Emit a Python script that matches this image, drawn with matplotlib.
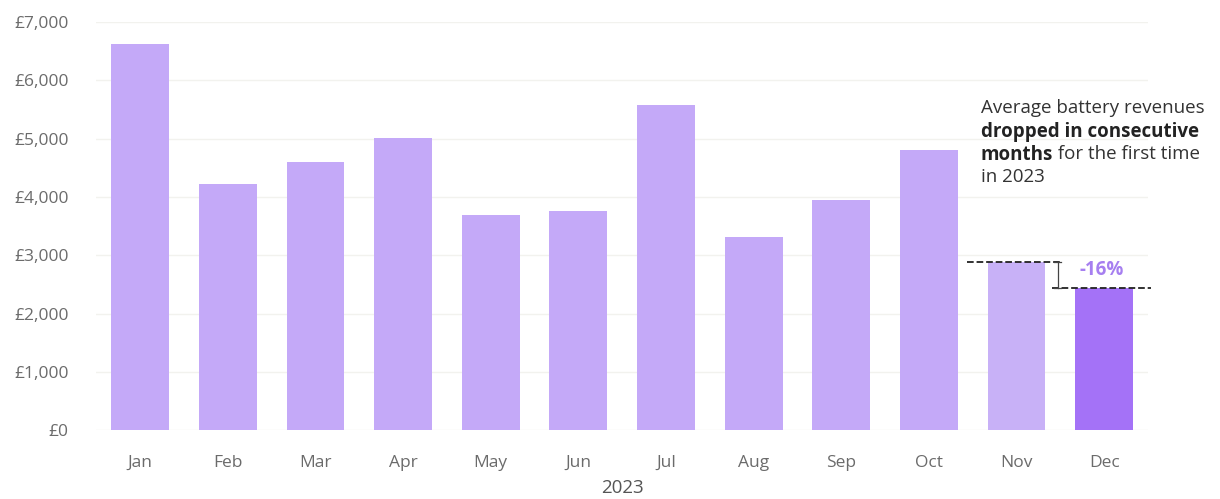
import matplotlib.pyplot as plt
from matplotlib.ticker import FuncFormatter

plt.rcParams['font.family'] = ['Open Sans', 'DejaVu Sans']

months = ['Jan', 'Feb', 'Mar', 'Apr', 'May', 'Jun', 'Jul', 'Aug', 'Sep', 'Oct', 'Nov', 'Dec']
revenue = [6620, 4220, 4600, 5010, 3690, 3760, 5575, 3310, 3945, 4800, 2880, 2435]
yticks = [0, 1000, 2000, 3000, 4000, 5000, 6000, 7000]
change_label = '-16%'

bar_colors = ['#c4a9f8'] * 10 + ['#c8b1f7', '#a472f7']

fig = plt.figure(figsize=(12.2, 4.99), dpi=100)
ax = fig.add_axes([0.079, 0.138, 0.862, 0.818])

x = list(range(len(months)))
ax.bar(x, revenue, width=0.66, color=bar_colors, zorder=2)

ax.set_xlim(-0.5, 11.5)
ax.set_ylim(0, 7000)
ax.set_yticks(yticks)
ax.yaxis.set_major_formatter(FuncFormatter(lambda v, p: f'£{int(v):,}'))
ax.set_xticks(x)
ax.set_xticklabels(months)
ax.tick_params(axis='both', length=0, colors='#6b6b6b', labelsize=12.5)
ax.tick_params(axis='y', pad=20)
ax.tick_params(axis='x', pad=18)
ax.grid(axis='y', color='#f2f2ee', linewidth=1, zorder=0)
for s in ax.spines.values():
    s.set_visible(False)

ax.set_xlabel('2023', fontsize=13.5, color='#555555', labelpad=6)

# annotation
fs = 13.5
ax.text(9.59, 5680, 'Average battery revenues', fontsize=fs, color='#333333', va='top')
ax.text(9.59, 5285, 'dropped in consecutive', fontsize=fs, color='#222222', va='top', fontweight='bold')
t = ax.text(9.59, 4890, 'months', fontsize=fs, color='#222222', va='top', fontweight='bold')
ax.annotate(' for the first time', xy=(1, 1), xycoords=t, va='top', ha='left',
            fontsize=fs, color='#333333')
ax.text(9.59, 4495, 'in 2023', fontsize=fs, color='#333333', va='top')

nov, dec = revenue[10], revenue[11]
ax.plot([9.44, 10.52], [nov, nov], ls='--', color='#222222', lw=1.3, zorder=3)
ax.plot([10.41, 11.53], [dec, dec], ls='--', color='#222222', lw=1.3, zorder=3, clip_on=False)
ax.plot([10.47, 10.47], [dec, nov], color='#444444', lw=0.9, zorder=3)
ax.plot([10.43, 10.51], [nov, nov], color='#444444', lw=0.9, zorder=3)
ax.plot([10.43, 10.51], [dec, dec], color='#444444', lw=0.9, zorder=3)
ax.text(10.72, 2745, change_label, fontsize=13.5, color='#a67ff0',
        fontweight='bold', va='center')

fig.savefig('out.png', dpi=100)
